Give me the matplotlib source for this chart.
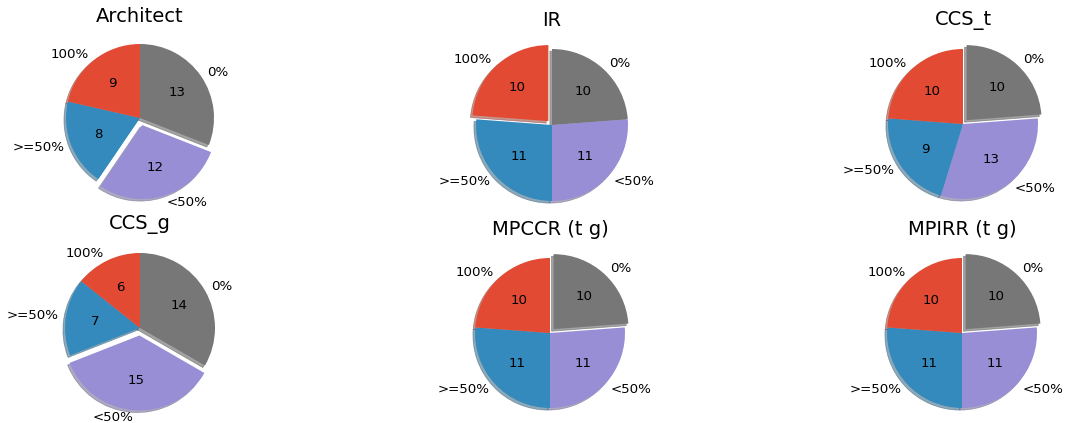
import matplotlib
matplotlib.use("Agg")
import matplotlib.pyplot as plt

plt.style.use('ggplot')

# --- data ---
titles = ['Architect', 'IR', 'CCS_t', 'CCS_g', 'MPCCR (t g)', 'MPIRR (t g)']
categories = ['0%', '<50%', '>=50%', '100%']
architect = [13, 12, 8, 9]
ir = [10, 11, 11, 10]
ccs_t = [10, 13, 9, 10]
ccs_g = [14, 15, 7, 6]
mpccr = [10, 11, 11, 10]
mpirr = [10, 11, 11, 10]
series = [architect, ir, ccs_t, ccs_g, mpccr, mpirr]
exploded = [1, 3, 0, 1, 0, 0]          # which wedge is pulled out
explode_amt = [0.1, 0.07, 0.07, 0.1, 0.07, 0.07]

colors = ['#777777', '#988ED5', '#348ABD', '#E24A33']

W, H = 1070, 423
fig = plt.figure(figsize=(W / 100, H / 100), dpi=100)
fig.patch.set_facecolor('white')

# pie centers / radii in pixels (x from left, y from top)
centers = [(140, 118), (552, 125), (963, 124), (140, 328), (550, 333), (962, 333)]
radii = [74, 76, 75, 75, 75, 75]
title_base = [28, 28, 28, 236, 236, 236]

for i, (title, vals) in enumerate(zip(titles, series)):
    cx, cy = centers[i]
    half = 1.25 * radii[i]
    ax = fig.add_axes([(cx - half) / W, (H - cy - half) / H, 2 * half / W, 2 * half / H])
    total = sum(vals)
    explode = [0] * len(vals)
    explode[exploded[i]] = explode_amt[i]
    ax.pie(vals, labels=categories, colors=colors, explode=explode,
           startangle=90, counterclock=False,
           shadow={'ox': -0.02, 'oy': -0.02, 'shade': 0.4},
           autopct=lambda p, t=total: f'{round(p * t / 100):.0f}',
           textprops={'fontsize': 9.6, 'color': 'black'})
    pad = (cy - half - title_base[i]) * 72 / 100
    ax.set_title(title, fontsize=14, pad=pad, color='black')

fig.savefig('out.png', dpi=100, facecolor='white')
